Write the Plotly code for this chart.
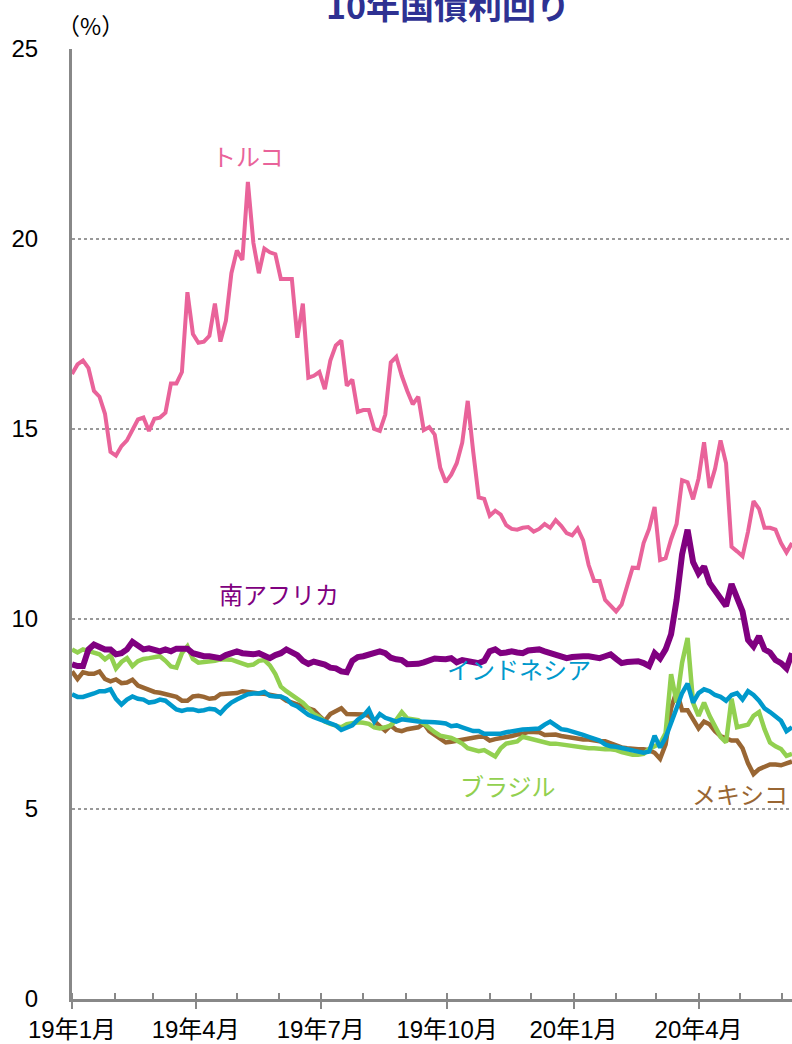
import pandas as pd
import plotly.graph_objects as go

# 4-day sampled observation dates, 2019-01-01 .. 2020-06-08
dates = pd.date_range("2019-01-01", periods=132, freq="4D")

turkey = [
    16.45, 16.7, 16.8, 16.6, 16.0, 15.85, 15.4, 14.4, 14.3, 14.55,
    14.7, 14.95, 15.25, 15.3, 14.95, 15.27, 15.3, 15.43, 16.2, 16.2,
    16.5, 18.6, 17.5, 17.27, 17.3, 17.45, 18.3, 17.3, 17.85, 19.1,
    19.7, 19.45, 21.5, 19.9, 19.1, 19.75, 19.65, 19.6, 18.95, 18.95,
    18.95, 17.4, 18.3, 16.35, 16.4, 16.5, 16.05, 16.8, 17.2, 17.33,
    16.14, 16.3, 15.45, 15.5, 15.5, 15.0, 14.95, 15.38, 16.75, 16.9,
    16.4, 16.0, 15.65, 15.85, 14.97, 15.05, 14.85, 13.98, 13.6, 13.8,
    14.1, 14.64, 15.74, 14.4, 13.2, 13.16, 12.72, 12.85, 12.75, 12.47,
    12.37, 12.35, 12.4, 12.42, 12.3, 12.37, 12.5, 12.4, 12.6, 12.45,
    12.26, 12.2, 12.38, 12.07, 11.42, 11.0, 11.0, 10.5, 10.34, 10.2,
    10.38, 10.9, 11.35, 11.34, 12.0, 12.37, 12.95, 11.55, 11.6, 12.1,
    12.5, 13.65, 13.6, 13.15, 13.7, 14.65, 13.45, 13.95, 14.7, 14.1,
    11.9, 11.78, 11.65, 12.3, 13.1, 12.9, 12.4, 12.4, 12.35, 12.0,
    11.75, 12.0,
]

south_africa = [
    8.81, 8.76, 8.76, 9.2, 9.33, 9.25, 9.2, 9.2, 9.07, 9.1,
    9.2, 9.4, 9.28, 9.2, 9.23, 9.18, 9.15, 9.2, 9.15, 9.22,
    9.23, 9.22, 9.1, 9.04, 9.02, 9.02, 9.0, 8.97, 9.05, 9.12,
    9.15, 9.1, 9.08, 9.07, 9.1, 9.05, 8.97, 9.05, 9.1, 9.2,
    9.12, 9.05, 8.9, 8.82, 8.88, 8.85, 8.8, 8.72, 8.7, 8.62,
    8.6, 8.9, 9.0, 9.02, 9.07, 9.1, 9.15, 9.1, 8.98, 8.94,
    8.92, 8.81, 8.81, 8.82, 8.86, 8.92, 8.96, 8.95, 8.94, 8.97,
    8.86, 8.92, 8.9, 8.86, 8.84, 8.9, 9.15, 9.2, 9.1, 9.12,
    9.15, 9.12, 9.1, 9.17, 9.2, 9.2, 9.15, 9.1, 9.08, 9.02,
    8.97, 9.0, 9.02, 9.02, 9.02, 9.0, 8.97, 9.02, 9.07, 8.95,
    8.84, 8.87, 8.89, 8.89, 8.84, 8.76, 9.1, 8.96, 9.2, 9.6,
    10.5, 11.7, 12.35, 11.5, 11.2, 11.38, 10.95, 10.75, 10.5, 10.34,
    10.92, 10.6, 10.2, 9.45, 9.28, 9.55, 9.2, 9.12, 8.92, 8.84,
    8.7, 9.1,
]

indonesia = [
    8.02, 7.95, 7.95, 7.98, 8.04, 8.1, 8.1, 8.15, 7.9, 7.75,
    7.88, 7.96, 7.9, 7.88, 7.8, 7.82, 7.88, 7.85, 7.72, 7.62,
    7.58, 7.62, 7.62, 7.58, 7.6, 7.64, 7.62, 7.52, 7.68, 7.8,
    7.88, 7.95, 8.02, 8.04, 8.04, 8.08, 7.98, 7.96, 7.96, 7.9,
    7.76, 7.7, 7.6, 7.48, 7.42, 7.36, 7.3, 7.23, 7.2, 7.08,
    7.15, 7.2, 7.35, 7.45, 7.62, 7.3, 7.5, 7.4, 7.35, 7.3,
    7.36, 7.35, 7.32, 7.3, 7.3, 7.28, 7.28, 7.27, 7.25, 7.18,
    7.2, 7.15, 7.1, 7.05, 7.05, 6.98, 6.98, 6.97, 6.98, 7.02,
    7.05, 7.07, 7.09, 7.1, 7.12, 7.12, 7.22, 7.3, 7.2, 7.1,
    7.08, 7.04, 7.02, 6.95, 6.9, 6.85, 6.8, 6.7, 6.65, 6.64,
    6.6, 6.58, 6.55, 6.51, 6.48, 6.51, 6.93, 6.62, 6.88, 7.3,
    7.65, 8.05, 8.3, 7.8, 8.05, 8.15, 8.1, 8.0, 7.95, 7.85,
    8.0, 8.05, 7.88, 8.1, 8.0, 7.85, 7.65, 7.55, 7.45, 7.32,
    7.05, 7.15,
]

brazil = [
    9.2, 9.12, 9.2, 9.15, 9.1, 9.07, 8.94, 9.05, 8.7, 8.87,
    8.97, 8.76, 8.89, 8.95, 8.97, 9.0, 9.02, 8.9, 8.75, 8.72,
    9.1, 9.28, 8.95, 8.85, 8.86, 8.89, 8.9, 8.94, 8.94, 8.93,
    8.88, 8.82, 8.78, 8.8, 8.9, 8.92, 8.78, 8.55, 8.22, 8.1,
    8.0, 7.91, 7.8, 7.65, 7.5, 7.42, 7.3, 7.24, 7.18, 7.15,
    7.23, 7.25, 7.28, 7.27, 7.24, 7.15, 7.12, 7.15, 7.2, 7.35,
    7.55, 7.38, 7.37, 7.34, 7.25, 7.12, 7.02, 6.93, 6.9, 6.87,
    6.8, 6.72, 6.6, 6.55, 6.52, 6.55, 6.45, 6.38, 6.6, 6.72,
    6.75, 6.78, 6.9, 6.86, 6.82, 6.78, 6.74, 6.72, 6.72, 6.7,
    6.68, 6.65, 6.62, 6.6, 6.6, 6.6, 6.58, 6.57, 6.57, 6.55,
    6.5, 6.45, 6.43, 6.43, 6.45, 6.58, 6.65, 6.72, 7.0, 8.55,
    7.8, 8.85, 9.5, 7.8, 7.45, 7.8, 7.45, 7.15, 6.9, 6.75,
    7.9, 7.15, 7.18, 7.22, 7.45, 7.55, 7.1, 6.75, 6.65, 6.58,
    6.4, 6.45,
]

mexico = [
    8.62, 8.42, 8.6, 8.56, 8.56, 8.62, 8.42, 8.36, 8.41, 8.31,
    8.33, 8.4, 8.25, 8.2, 8.12, 8.08, 8.06, 8.02, 7.98, 7.95,
    7.85, 7.85, 7.96, 7.98, 7.95, 7.9, 7.92, 8.02, 8.03, 8.03,
    8.05, 8.1, 8.07, 8.04, 8.04, 8.03, 8.0, 7.96, 7.95, 7.85,
    7.8, 7.76, 7.7, 7.64, 7.6, 7.45, 7.32, 7.5, 7.57, 7.65,
    7.5, 7.5, 7.5, 7.49, 7.45, 7.3, 7.18, 7.06, 7.2, 7.08,
    7.05, 7.1, 7.12, 7.15, 7.25, 7.05, 6.95, 6.86, 6.75, 6.77,
    6.8, 6.83, 6.85, 6.88, 6.9, 6.9, 6.8, 6.84, 6.86, 6.9,
    6.92, 6.96, 6.98, 7.03, 7.02, 7.02, 6.95, 6.96, 6.96, 6.92,
    6.9, 6.86, 6.85, 6.83, 6.83, 6.8, 6.78, 6.78, 6.72, 6.65,
    6.62, 6.6, 6.58, 6.57, 6.57, 6.55, 6.48, 6.32, 6.7, 7.65,
    8.1, 7.6, 7.6, 7.38, 7.12, 7.3, 7.23, 7.05, 6.92, 6.86,
    6.8, 6.8, 6.6, 6.2, 5.92, 6.05, 6.1, 6.17, 6.17, 6.15,
    6.2, 6.25,
]

tick_vals = ["2019-01-01", "2019-04-01", "2019-07-01", "2019-10-01", "2020-01-01", "2020-04-01"]
tick_text = ["19年1月", "19年4月", "19年7月", "19年10月", "20年1月", "20年4月"]

# (name, values, colour, width, label x, label y)
series = [
    ("トルコ", turkey, "#E9639A", 4, "2019-05-09", 22.2),
    ("メキシコ", mexico, "#996633", 4.5, "2020-05-01", 5.42),
    ("ブラジル", brazil, "#92D050", 4.5, "2019-11-14", 5.63),
    ("インドネシア", indonesia, "#0099CC", 4.5, "2019-11-22", 8.71),
    ("南アフリカ", south_africa, "#800080", 6, "2019-06-01", 10.68),
]

font_jp = "Liberation Sans, Noto Sans CJK JP, sans-serif"

fig = go.Figure()
for name, vals, color, w, lx, ly in series:
    fig.add_trace(go.Scatter(x=dates, y=vals, mode="lines", name=name,
                             line=dict(color=color, width=w), showlegend=False))
    fig.add_annotation(x=lx, y=ly, text=name, showarrow=False, xanchor="center",
                       font=dict(size=24, color=color, family="Noto Sans CJK JP"))

fig.add_annotation(xref="paper", yref="paper", x=0.522, y=1, yshift=45,
                   xanchor="center", yanchor="middle",
                   text="<b>10年国債利回り</b>", showarrow=False,
                   font=dict(size=34, color="#2E3192", family="Noto Sans CJK JP"))
fig.add_annotation(xref="paper", yref="paper", x=0.025, y=1, yshift=24,
                   xanchor="center", yanchor="middle",
                   text="（%）", showarrow=False,
                   font=dict(size=23, color="black", family="Noto Sans CJK JP"))

fig.update_layout(
    width=792, height=1044,
    margin=dict(l=72, r=0, t=49, b=45),
    plot_bgcolor="white", paper_bgcolor="white",
    font=dict(family=font_jp, size=24, color="black"),
)
fig.update_xaxes(
    type="date", range=["2019-01-01", "2020-06-08"], automargin=False,
    tickvals=tick_vals, ticktext=tick_text,
    ticks="outside", ticklen=7, tickwidth=2, tickcolor="#888888",
    minor=dict(dtick="M1", tick0="2019-01-01", ticks="inside", ticklen=6,
               tickwidth=2, tickcolor="#888888", showgrid=False),
    showline=True, linecolor="#888888", linewidth=3,
    showgrid=False, ticklabelstandoff=0,
    tickfont=dict(size=24, family=font_jp),
)
fig.update_yaxes(
    range=[0, 25], dtick=5, ticks="", automargin=False,
    showline=True, linecolor="#888888", linewidth=3,
    showgrid=True, gridcolor="#999999", griddash="dot", gridwidth=1.5,
    zeroline=False, ticklabelstandoff=26,
    tickfont=dict(size=24, family=font_jp),
)

# drop the browser's default page margin so the figure fills the window exactly
fig.write_html("out.html", config={"displayModeBar": False},
               post_script="document.body.style.margin='0';")
